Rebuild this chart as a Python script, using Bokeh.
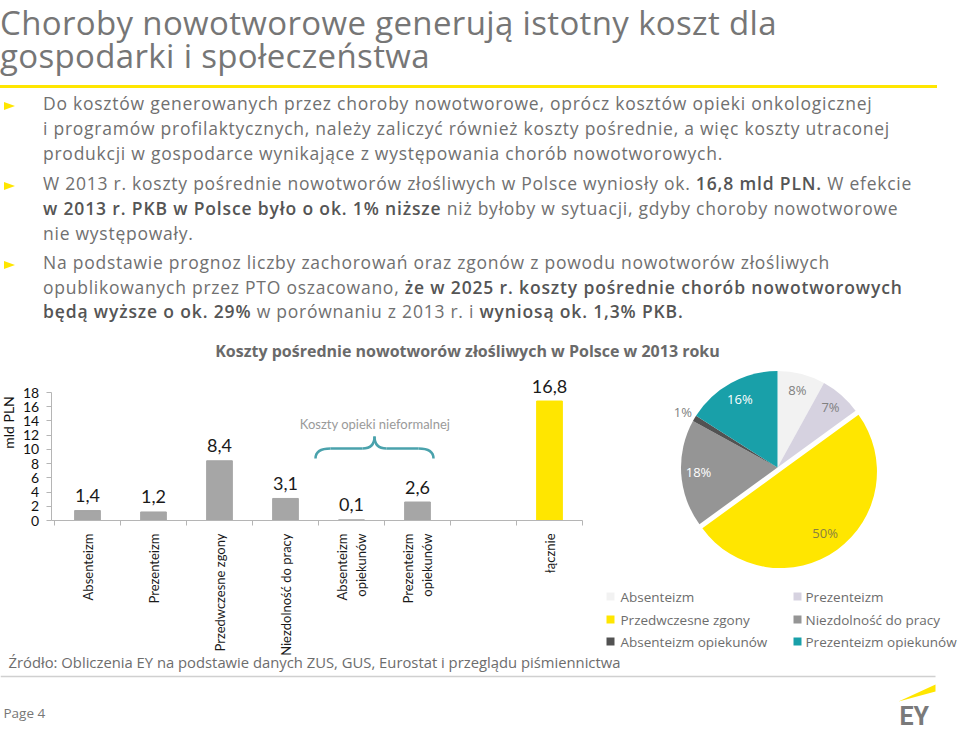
import math
from bokeh.plotting import figure
from bokeh.models import Range1d, LinearAxis, FixedTicker, Div, ColumnDataSource
from bokeh.layouts import column
from bokeh.embed import file_html
from bokeh.resources import INLINE
from bokeh.core.properties import value

# ---------------- data ----------------
categories = ["Absenteizm", "Prezenteizm", "Przedwczesne zgony", "Niezdolność do pracy",
              "Absenteizm\nopiekunów", "Prezenteizm\nopiekunów", "", "łącznie"]
values = [1.4, 1.2, 8.4, 3.1, 0.1, 2.6, None, 16.8]
value_labels = ["1,4", "1,2", "8,4", "3,1", "0,1", "2,6", "", "16,8"]
y_ticks = [0, 2, 4, 6, 8, 10, 12, 14, 16, 18]

pie_names = ["Absenteizm", "Prezenteizm", "Przedwczesne zgony", "Niezdolność do pracy",
             "Absenteizm opiekunów", "Prezenteizm opiekunów"]
pie_shares = [8, 7, 50, 18, 1, 16]

title_text = "Choroby nowotworowe generują istotny koszt dla gospodarki i społeczeństwa"
chart_title = "Koszty pośrednie nowotworów złośliwych w Polsce w 2013 roku"
brace_label = "Koszty opieki nieformalnej"
source_text = "Źródło: Obliczenia EY na podstawie danych ZUS, GUS, Eurostat i przeglądu piśmiennictwa"
page_text = "Page 4"

bullet_lines = [
    (True, [("Do kosztów generowanych przez choroby nowotworowe, oprócz kosztów opieki onkologicznej", False)]),
    (False, [("i programów profilaktycznych, należy zaliczyć również koszty pośrednie, a więc koszty utraconej", False)]),
    (False, [("produkcji w gospodarce wynikające z występowania chorób nowotworowych.", False)]),
    (True, [("W 2013 r. koszty pośrednie nowotworów złośliwych w Polsce wyniosły ok. ", False),
            ("16,8 mld PLN.", True), (" W efekcie", False)]),
    (False, [("w 2013 r. PKB w Polsce było o ok. 1% niższe", True),
             (" niż byłoby w sytuacji, gdyby choroby nowotworowe", False)]),
    (False, [("nie występowały.", False)]),
    (True, [("Na podstawie prognoz liczby zachorowań oraz zgonów z powodu nowotworów złośliwych", False)]),
    (False, [("opublikowanych przez PTO oszacowano, ", False),
             ("że w 2025 r. koszty pośrednie chorób nowotworowych", True)]),
    (False, [("będą wyższe o ok. 29%", True), (" w porównaniu z 2013 r. i ", False),
             ("wyniosą ok. 1,3% PKB.", True)]),
]

# ---------------- styles / layout ----------------
W, H = 960, 733
TOP_REF = 335
DIV_H = TOP_REF
FIG_H = H - DIV_H

GRAY_TXT = "#707070"
BOLD_TXT = "#555555"
YELLOW = "#ffe600"
bar_gray = "#a6a6a6"
pie_colors = ["#f2f2f2", "#d6d2e0", YELLOW, "#959595", "#525252", "#19a0a9"]
pie_label_colors = ["#808080", "#808080", "#8a8040", "#ffffff", "#808080", "#ffffff"]
pie_label_r = [0.83, 0.83, 0.84, 0.82, 1.14, 0.81]

# ---------------- top (HTML) ----------------
FS_B = 17.5
def line_html(x, base, fs, inner, color, ls=0.0):
    top = base - 0.888 * fs   # line-height 1 -> baseline = top + 0.888 fs (Open Sans)
    return (f'<div style="position:absolute;left:{x:.1f}px;top:{top:.1f}px;'
            f'font-family:\'Open Sans\';font-size:{fs}px;line-height:1;white-space:nowrap;'
            f'letter-spacing:{ls}px;color:{color};">{inner}</div>')

parts = []
parts.append('<div style="position:absolute;left:0;top:6px;width:790px;font-family:\'Open Sans\';'
             'font-size:33px;line-height:33px;letter-spacing:0.35px;color:#767676;">'
             + title_text + '</div>')
parts.append(f'<div style="position:absolute;left:0;top:85px;width:937px;'
             f'height:3px;background:{YELLOW};"></div>')
bullet_base = [110, 135, 160, 190, 215, 240, 269, 294, 318]
for (has_bullet, segs), b in zip(bullet_lines, bullet_base):
    inner = "".join(
        f'<span style="font-weight:600;color:{BOLD_TXT};letter-spacing:0.85px;">{s}</span>' if bold else s
        for s, bold in segs)
    parts.append(line_html(43, b, FS_B, inner, GRAY_TXT, ls=0.75))
    if has_bullet:
        cy = b - 4
        parts.append(f'<div style="position:absolute;left:4px;top:{cy-4:.1f}px;width:0;height:0;'
                     f'border-left:11px solid {YELLOW};border-top:4px solid transparent;'
                     f'border-bottom:4px solid transparent;"></div>')

html = (f'<div style="position:relative;width:{W}px;height:{DIV_H}px;overflow:hidden;'
        f'background:white;">' + "".join(parts) + '</div>')
top_div = Div(text=html, width=W, height=DIV_H, margin=0)

# ---------------- bottom figure ----------------
p = figure(width=W, height=FIG_H, x_range=Range1d(0, 960), y_range=Range1d(-733, -TOP_REF),
           output_backend="svg", toolbar_location=None, min_border=0,
           x_axis_location=None, y_axis_location=None)
p.outline_line_color = None
p.grid.visible = False
p.background_fill_color = "white"
p.border_fill_color = "white"

# bar-chart coordinate anchors (reference pixels)
BX0, BDX = 87.0, 66.0
BY0, BDY = 520.0, 128.0 / 18.0
p.extra_x_ranges = {"bx": Range1d((0 - BX0) / BDX, (960 - BX0) / BDX)}
p.extra_y_ranges = {"by": Range1d((-733 + BY0) / BDY, (-TOP_REF + BY0) / BDY)}

idx = [i for i, v in enumerate(values) if v is not None]
bar_src = ColumnDataSource(dict(
    x=idx,
    top=[values[i] for i in idx],
    lab=[value_labels[i] for i in idx],
    color=[YELLOW if categories[i] == "łącznie" else bar_gray for i in idx],
))
p.vbar(x="x", top="top", bottom=0, width=0.39, color="color", source=bar_src,
       x_range_name="bx", y_range_name="by")
p.text(x="x", y="top", text="lab", source=bar_src, x_range_name="bx", y_range_name="by",
       text_align="center", text_baseline="alphabetic", y_offset=-15,
       text_font=value("Lato"), text_font_size=value("18px"), text_color="#1a1a1a")

axis_col = "#b5b5b5"
yaxis = LinearAxis(x_range_name="bx", y_range_name="by", fixed_location=-0.55,
                   ticker=FixedTicker(ticks=y_ticks), bounds=(0, 18),
                   axis_line_color=axis_col, major_tick_line_color=axis_col,
                   major_tick_out=5, major_tick_in=0, minor_tick_out=0, minor_tick_in=0,
                   minor_tick_line_color=None,
                   major_label_text_font="Lato", major_label_text_font_size="14px",
                   major_label_text_color="#111111", major_label_standoff=7)
p.add_layout(yaxis, "left")

n = len(categories)
xaxis = LinearAxis(x_range_name="bx", y_range_name="by", fixed_location=0,
                   ticker=FixedTicker(ticks=[k - 0.5 for k in range(n + 1)]), bounds=(-0.55, n - 0.5),
                   axis_line_color=axis_col, major_tick_line_color=axis_col,
                   major_tick_out=5, major_tick_in=0, minor_tick_line_color=None,
                   major_label_text_color=None)
p.add_layout(xaxis, "below")

cat_axis = LinearAxis(x_range_name="bx", y_range_name="by", fixed_location=0,
                      ticker=FixedTicker(ticks=[i for i, c in enumerate(categories) if c]),
                      major_label_overrides={i: c for i, c in enumerate(categories) if c},
                      major_label_orientation=math.pi / 2,
                      axis_line_color=None, major_tick_line_color=None, minor_tick_line_color=None,
                      major_label_text_font="Lato", major_label_text_font_size="13px",
                      major_label_text_color="#1a1a1a", major_label_standoff=7)
p.add_layout(cat_axis, "below")

# y-axis title
p.text(x=[8], y=[-422], text=["mld PLN"], angle=math.pi / 2, text_align="center",
       text_baseline="middle", text_font=value("Lato"), text_font_size=value("14px"),
       text_color="#111111")

# chart title
p.text(x=[467], y=[-350], text=[chart_title], text_align="center", text_baseline="middle",
       text_font=value("Open Sans"), text_font_size=value("16px"), text_font_style="bold",
       text_color="#6a6a6a")

# brace annotation
p.text(x=[374.5], y=[-423], text=[brace_label], text_align="center", text_baseline="middle",
       text_font=value("Lato"), text_font_size=value("13px"), text_color="#9a9a9a")
bc = "#4aa2ac"
p.quadratic(x0=[315, 362, 374, 418], y0=[-458, -448, -436, -448],
            x1=[330, 374, 386, 433], y1=[-448, -436, -448, -458],
            cx=[315, 374, 374, 433], cy=[-448, -448, -448, -448],
            line_color=bc, line_width=2.5)
p.segment(x0=[330, 386], y0=[-448, -448], x1=[362, 418], y1=[-448, -448],
          line_color=bc, line_width=2.5)

# pie
CX, CY, R = 777.0, -467.0, 96.5
cum = 0.0
wx, wy, sa, ea, lx, ly, ltxt = [], [], [], [], [], [], []
for k, s in enumerate(pie_shares):
    t1, t2 = cum / 100 * 360, (cum + s) / 100 * 360
    cum += s
    mid = math.radians(90 - (t1 + t2) / 2)
    off = 5.0 if k == 2 else 0.0
    wx.append(CX + off * math.cos(mid))
    wy.append(CY + off * math.sin(mid))
    sa.append(math.radians(90 - t2))
    ea.append(math.radians(90 - t1))
    lx.append(CX + pie_label_r[k] * R * math.cos(mid))
    ly.append(CY + pie_label_r[k] * R * math.sin(mid))
    ltxt.append(f"{s}%")
p.wedge(x=wx, y=wy, radius=R, start_angle=sa, end_angle=ea, direction="anticlock",
        fill_color=pie_colors, line_color=None)
p.text(x=lx, y=ly, text=ltxt, text_align="center", text_baseline="middle",
       text_font=value("Open Sans"), text_font_size=value("13px"), text_color=pie_label_colors)

# legend
sq_x = [610, 797]
tx_x = [620, 805]
rows_y = [596, 619, 641]
gx = [sq_x[k % 2] for k in range(len(pie_names))]
gy = [-rows_y[k // 2] for k in range(len(pie_names))]
tx = [tx_x[k % 2] for k in range(len(pie_names))]
p.scatter(x=gx, y=gy, marker="square", size=8, fill_color=pie_colors, line_color=None)
p.text(x=tx, y=gy, text=pie_names, text_align="left", text_baseline="middle",
       text_font=value("Open Sans"), text_font_size=value("13.5px"), text_color="#6d6d6d")

# source, footer
p.text(x=[8], y=[-661], text=[source_text], text_align="left", text_baseline="middle",
       text_font=value("Open Sans"), text_font_size=value("14.8px"), text_color="#6d6d6d")
p.segment(x0=[0], y0=[-676], x1=[935], y1=[-676], line_color="#d0d0d0", line_width=1.5)
p.text(x=[3], y=[-712], text=[page_text], text_align="left", text_baseline="middle",
       text_font=value("Open Sans"), text_font_size=value("13.5px"), text_color="#777777")
# EY logo
p.patch(x=[898, 935, 935], y=[-701, -684, -691], fill_color=YELLOW, line_color=None)
p.text(x=[899], y=[-716], text=["EY"], text_align="left", text_baseline="middle",
       text_font=value("Roboto"), text_font_size=value("25px"),
       text_font_style="bold", text_color="#7a7a7a")

layout = column(top_div, p, spacing=0)
open("out.html", "w").write(file_html(layout, INLINE))
